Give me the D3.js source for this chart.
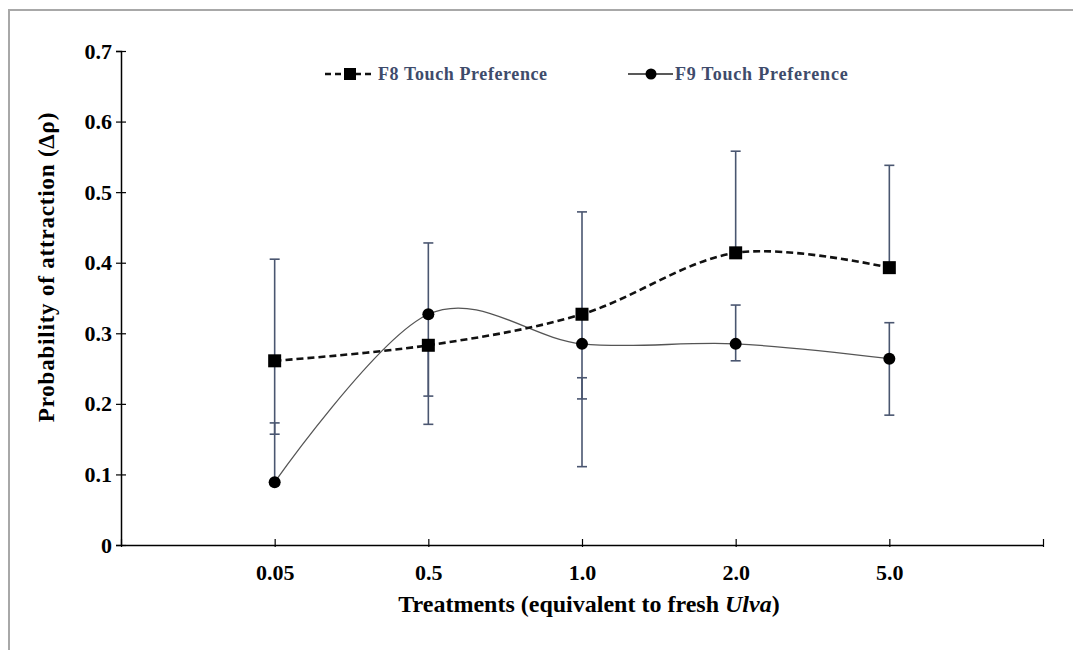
<!DOCTYPE html>
<html>
<head>
<meta charset="utf-8">
<script src="https://cdnjs.cloudflare.com/ajax/libs/d3/7.8.5/d3.min.js"></script>
<style>
body { margin: 0; background: #fff; }
svg text { font-family: "Liberation Serif", "Times New Roman", serif; font-weight: bold; }
</style>
</head>
<body>
<div id="chart"></div>
<script>

var treatments = ['0.05', '0.5', '1.0', '2.0', '5.0'];
var yTicks = [0, 0.1, 0.2, 0.3, 0.4, 0.5, 0.6, 0.7];

var f8 = [0.261, 0.283, 0.327, 0.414, 0.393];
var f8Lo = [0.157, 0.171, 0.207, 0.414, 0.393];
var f8Hi = [0.405, 0.283, 0.472, 0.558, 0.538];

var f9 = [0.089, 0.327, 0.285, 0.285, 0.264];
var f9Lo = [0.089, 0.211, 0.111, 0.261, 0.184];
var f9Hi = [0.173, 0.428, 0.237, 0.340, 0.315];

var width = 1073, height = 650;
var mLeft = 121, mRight = 1043, mTop = 51, mBottom = 545;

var svg = d3.select('#chart')
    .append('svg')
    .attr('width', width)
    .attr('height', height);

// frame round the figure
svg.append('path')
    .attr('d', 'M9,' + height + 'V10H' + width)
    .attr('fill', 'none')
    .attr('stroke', '#a8a8a8')
    .attr('stroke-width', 2);

// slots 0..6, treatments sit on 1..5
var x = d3.scaleLinear().domain([0, 6]).range([mLeft, mRight]);
var y = d3.scaleLinear().domain([0, 0.7]).range([mBottom, mTop]);

var xAxis = svg.append('g')
    .attr('transform', 'translate(0,' + mBottom + ')')
    .call(d3.axisBottom(x).tickValues([0, 1, 2, 3, 4, 5, 6])
        .tickSizeInner(-6).tickSizeOuter(0)
        .tickFormat(function(d) { return treatments[d - 1] || ''; }));
xAxis.select('.domain').attr('stroke-width', 1.5);
xAxis.selectAll('.tick line').attr('y2', -6).attr('y1', 2).attr('stroke-width', 1.2);
xAxis.selectAll('.tick text')
    .attr('y', 19)
    .attr('font-size', 22)
    .attr('font-family', 'Liberation Serif')
    .attr('fill', '#000');

var yAxis = svg.append('g')
    .attr('transform', 'translate(' + mLeft + ',0)')
    .call(d3.axisLeft(y).tickValues(yTicks).tickSizeOuter(0).tickSize(5)
        .tickFormat(function(d) { return d === 0 ? '0' : d3.format('.1f')(d); }));
yAxis.select('.domain').attr('stroke-width', 1.5);
yAxis.selectAll('.tick line').attr('x2', 5).attr('x1', -5).attr('stroke-width', 1.2);
yAxis.selectAll('.tick text')
    .attr('x', -9)
    .attr('font-size', 22)
    .attr('font-family', 'Liberation Serif')
    .attr('fill', '#000');

// axis titles
svg.append('text')
    .attr('transform', 'translate(54,267) rotate(-90)')
    .attr('text-anchor', 'middle')
    .attr('font-size', 23)
    .attr('letter-spacing', 0.8)
    .text('Probability of attraction (\u0394\u03c1)');

var xt = svg.append('text')
    .attr('x', 589)
    .attr('y', 612)
    .attr('text-anchor', 'middle')
    .attr('font-size', 24);
xt.append('tspan').text('Treatments (equivalent to fresh ');
xt.append('tspan').attr('font-style', 'italic').text('Ulva');
xt.append('tspan').text(')');

// error bars
var errColor = '#4a5670';
var drawErr = function(lo, hi) {
    var g = svg.append('g').attr('stroke', errColor).attr('stroke-width', 1.6);
    treatments.forEach(function(t, i) {
        var cx = x(i + 1);
        g.append('line').attr('x1', cx).attr('x2', cx).attr('y1', y(lo[i])).attr('y2', y(hi[i]));
        [lo[i], hi[i]].forEach(function(v) {
            g.append('line').attr('x1', cx - 5).attr('x2', cx + 5).attr('y1', y(v)).attr('y2', y(v));
        });
    });
};
drawErr(f8Lo, f8Hi);
drawErr(f9Lo, f9Hi);

var line = d3.line()
    .x(function(d, i) { return x(i + 1); })
    .y(function(d) { return y(d); })
    .curve(d3.curveCardinal.tension(0));

svg.append('path')
    .datum(f9)
    .attr('d', line)
    .attr('fill', 'none')
    .attr('stroke', '#555')
    .attr('stroke-width', 1.3);

svg.append('path')
    .datum(f8)
    .attr('d', line)
    .attr('fill', 'none')
    .attr('stroke', '#111')
    .attr('stroke-width', 2.6)
    .attr('stroke-dasharray', '7,4');

svg.selectAll('.f9pt')
    .data(f9).enter()
    .append('circle')
    .attr('cx', function(d, i) { return x(i + 1); })
    .attr('cy', function(d) { return y(d); })
    .attr('r', 6)
    .attr('fill', '#000');

svg.selectAll('.f8pt')
    .data(f8).enter()
    .append('rect')
    .attr('x', function(d, i) { return x(i + 1) - 6.5; })
    .attr('y', function(d) { return y(d) - 6.5; })
    .attr('width', 13)
    .attr('height', 13)
    .attr('fill', '#000');

// legend
var legColor = '#3e4b6b';
var l1 = svg.append('g').attr('transform', 'translate(325,74)');
l1.append('line').attr('x1', 0).attr('x2', 50)
    .attr('stroke', '#111').attr('stroke-width', 2.6).attr('stroke-dasharray', '6,4');
l1.append('rect').attr('x', 19).attr('y', -6).attr('width', 12).attr('height', 12).attr('fill', '#000');
l1.append('text').attr('x', 53).attr('y', 6).attr('font-size', 18)
    .attr('letter-spacing', 0.6).attr('fill', legColor)
    .text('F8 Touch Preference');

var l2 = svg.append('g').attr('transform', 'translate(628,74)');
l2.append('line').attr('x1', 0).attr('x2', 45)
    .attr('stroke', '#222').attr('stroke-width', 1.3);
l2.append('circle').attr('cx', 23).attr('cy', 0).attr('r', 5.5).attr('fill', '#000');
l2.append('text').attr('x', 47).attr('y', 6).attr('font-size', 18)
    .attr('letter-spacing', 0.8).attr('fill', legColor)
    .text('F9 Touch Preference');

</script>
</body>
</html>
